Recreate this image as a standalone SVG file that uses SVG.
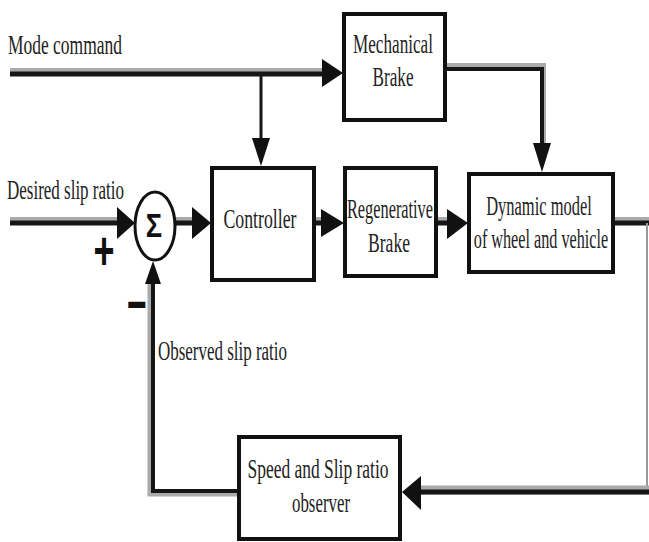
<svg xmlns="http://www.w3.org/2000/svg" width="649" height="542" viewBox="0 0 649 542">
<style>
.box{fill:#fff;stroke:#111;stroke-width:4}
.t{font-family:"Liberation Serif","Times New Roman",serif;font-size:27px;fill:#222}
.m{text-anchor:middle}
.sh{stroke:#aaa;fill:none}
.w{stroke:#161616;fill:none}
.ah{fill:#111}
.sym{font-family:"Liberation Sans",Arial,sans-serif;font-weight:bold;fill:#111;text-anchor:middle}
</style>
<rect width="649" height="542" fill="#fff"/>
<g id="connectors">
  <line class="sh" x1="10" y1="72" x2="324" y2="72" stroke-width="8"/>
  <line class="w" x1="10" y1="74" x2="324" y2="74" stroke-width="5"/>
  <polygon class="ah" points="322,59 343,73 322,87"/>
  <line class="w" x1="261" y1="74" x2="261" y2="140" stroke-width="3"/>
  <polygon class="ah" points="252,138 270,138 261,166"/>
  <polyline class="sh" points="447,66 543,66 543,145" stroke-width="6"/>
  <polyline class="w" points="447,69 542,69 542,145" stroke-width="4"/>
  <polygon class="ah" points="533,143 551,143 542,172"/>
  <line class="sh" x1="10" y1="221" x2="119" y2="221" stroke-width="8"/>
  <line class="w" x1="10" y1="223" x2="119" y2="223" stroke-width="5"/>
  <polygon class="ah" points="117,207 135,223 117,239"/>
  <line class="sh" x1="175" y1="221" x2="194" y2="221" stroke-width="8"/>
  <line class="w" x1="175" y1="223" x2="194" y2="223" stroke-width="5"/>
  <polygon class="ah" points="192,207 211,223 192,239"/>
  <line class="sh" x1="316" y1="221" x2="324" y2="221" stroke-width="8"/>
  <line class="w" x1="316" y1="223" x2="324" y2="223" stroke-width="5"/>
  <polygon class="ah" points="321,209 344,223 321,237"/>
  <line class="sh" x1="438" y1="221" x2="449" y2="221" stroke-width="8"/>
  <line class="w" x1="438" y1="223" x2="449" y2="223" stroke-width="5"/>
  <polygon class="ah" points="447,209 468,223 447,239"/>
  <line class="sh" x1="615" y1="221" x2="649" y2="221" stroke-width="8"/>
  <line class="w" x1="615" y1="223" x2="649" y2="223" stroke-width="5"/>
  <line x1="647" y1="223" x2="647" y2="492" stroke="#999" stroke-width="2"/>
  <line class="sh" x1="419" y1="490" x2="649" y2="490" stroke-width="9"/>
  <line class="w" x1="419" y1="492" x2="649" y2="492" stroke-width="5"/>
  <polygon class="ah" points="421,476 402,492 421,510"/>
  <polyline class="sh" points="237,493 151,493 151,282" stroke-width="7"/>
  <polyline class="w" points="237,491 153,491 153,282" stroke-width="4"/>
  <polygon class="ah" points="145,284 161,284 153,261"/>
</g>
<g id="mode-command"><text class="t" x="8" y="54" textLength="114" lengthAdjust="spacingAndGlyphs">Mode command</text></g>
<g id="desired-slip"><text class="t" x="7" y="199" textLength="117" lengthAdjust="spacingAndGlyphs">Desired slip ratio</text></g>
<g id="observed-slip"><text class="t" x="158" y="360" textLength="129" lengthAdjust="spacingAndGlyphs">Observed slip ratio</text></g>
<g id="mechanical-brake">
  <rect class="box" x="344" y="14" width="101" height="106"/>
  <text class="t m" x="393" y="53" textLength="80" lengthAdjust="spacingAndGlyphs">Mechanical</text>
  <text class="t m" x="393" y="86" textLength="41" lengthAdjust="spacingAndGlyphs">Brake</text>
</g>
<g id="sum">
  <ellipse cx="155" cy="226" rx="20" ry="34" fill="#fff" stroke="#111" stroke-width="3"/>
  <text class="sym" x="0" y="0" font-size="34" transform="translate(154,237) scale(0.8,1)" font-family="DejaVu Sans, sans-serif">Σ</text>
  <text class="sym" x="0" y="12" font-size="36" transform="translate(104,251) scale(1,1.5)">+</text>
  <text class="sym" x="0" y="11" font-size="34" transform="translate(137,305) scale(1,1.7)">−</text>
</g>
<g id="controller">
  <rect class="box" x="212" y="168" width="102" height="112"/>
  <text class="t m" x="260" y="228" textLength="73" lengthAdjust="spacingAndGlyphs">Controller</text>
</g>
<g id="regenerative-brake">
  <rect class="box" x="345" y="168" width="91" height="108"/>
  <text class="t m" x="390" y="218" textLength="86" lengthAdjust="spacingAndGlyphs">Regenerative</text>
  <text class="t m" x="389" y="252" textLength="42" lengthAdjust="spacingAndGlyphs">Brake</text>
</g>
<g id="dynamic-model">
  <rect class="box" x="469" y="174" width="144" height="98"/>
  <text class="t m" x="0" y="0" transform="translate(539,215) scale(0.61,1)">Dynamic model</text>
  <text class="t m" x="0" y="0" transform="translate(541,248) scale(0.6,1)">of wheel and vehicle</text>
</g>
<g id="observer">
  <rect class="box" x="239" y="437" width="161" height="102"/>
  <text class="t m" x="318" y="478" textLength="141" lengthAdjust="spacingAndGlyphs">Speed and Slip ratio</text>
  <text class="t m" x="321" y="512" textLength="58" lengthAdjust="spacingAndGlyphs">observer</text>
</g>
</svg>
